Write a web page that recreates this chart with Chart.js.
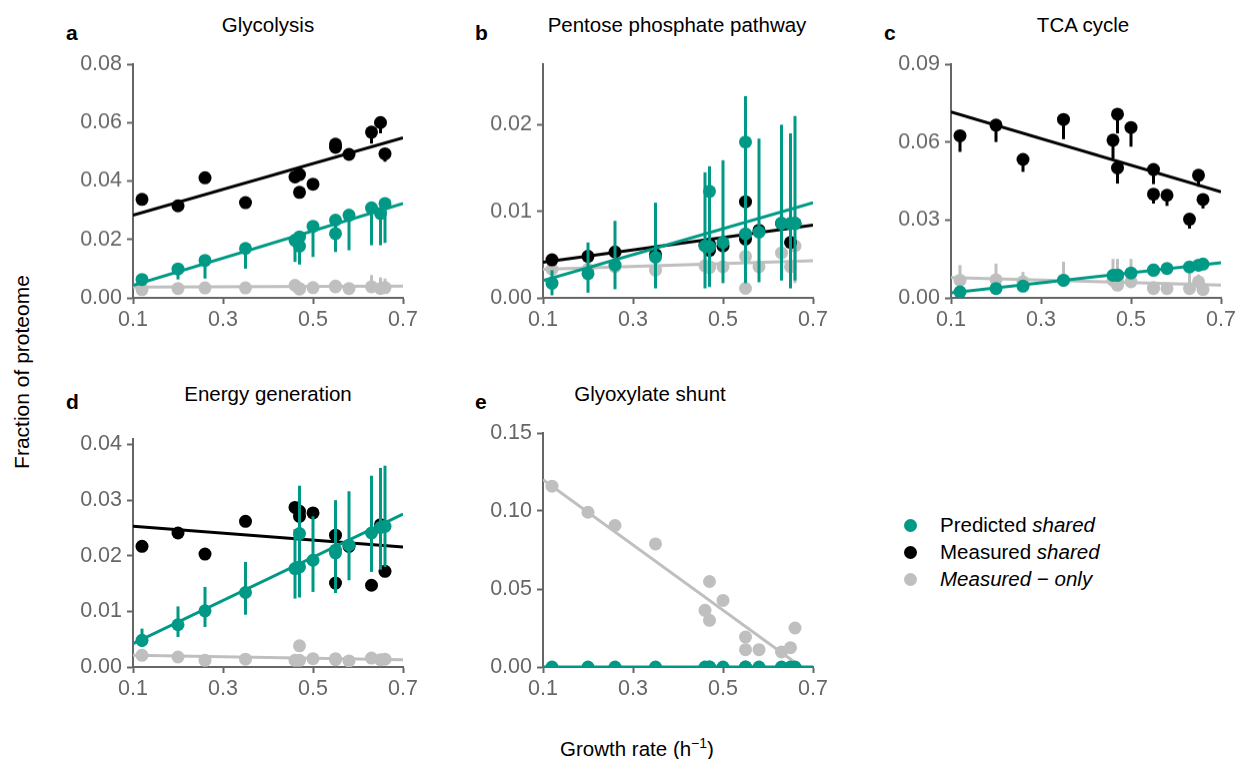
<!DOCTYPE html>
<html>
<head>
<meta charset="utf-8">
<script src="https://cdn.jsdelivr.net/npm/chart.js@4.4.1/dist/chart.umd.min.js"></script>
<style>
  body { margin: 0; background: #fff; font-family: 'Liberation Sans', Arial, sans-serif; }
  #page { position: relative; width: 1236px; height: 759px; overflow: hidden; }
  canvas { position: absolute; }
  .txt { position: absolute; white-space: nowrap; color: #000; font-size: 20.5px; }
  .title { transform: translateX(-50%); }
  .letter { font-weight: bold; font-size: 21px; }
  .dot { position: absolute; width: 13px; height: 13px; border-radius: 50%; }
</style>
</head>
<body>
<div id="page">
  <div class="txt letter" style="left:66px;top:21px">a</div>
  <div class="txt letter" style="left:475px;top:21px">b</div>
  <div class="txt letter" style="left:884px;top:21px">c</div>
  <div class="txt letter" style="left:66px;top:390px">d</div>
  <div class="txt letter" style="left:475px;top:390px">e</div>

  <div class="txt title" style="left:268px;top:13px">Glycolysis</div>
  <div class="txt title" style="left:677px;top:13px">Pentose phosphate pathway</div>
  <div class="txt title" style="left:1083px;top:13px">TCA cycle</div>
  <div class="txt title" style="left:268px;top:382px">Energy generation</div>
  <div class="txt title" style="left:650px;top:382px">Glyoxylate shunt</div>

  <div class="txt" style="left:22px;top:372px;transform:translate(-50%,-50%) rotate(-90deg);font-size:21px">Fraction of proteome</div>
  <div class="txt" style="left:637px;top:735px;transform:translateX(-50%)">Growth rate (h<sup style="font-size:14px">&minus;1</sup>)</div>

  <div class="dot" style="left:904px;top:519px;background:#009985"></div>
  <div class="dot" style="left:904px;top:546px;background:#000"></div>
  <div class="dot" style="left:904px;top:573px;background:#bfbfbf"></div>
  <div class="txt" style="left:940px;top:513px">Predicted <i>shared</i></div>
  <div class="txt" style="left:940px;top:540px">Measured <i>shared</i></div>
  <div class="txt" style="left:940px;top:567px"><i>Measured &minus; only</i></div>

  <canvas id="cA"></canvas>
  <canvas id="cB"></canvas>
  <canvas id="cC"></canvas>
  <canvas id="cD"></canvas>
  <canvas id="cE"></canvas>
</div>

<script>
// growth rates (h^-1), shared by every panel
const growthRate = [0.12, 0.20, 0.26, 0.35, 0.46, 0.47, 0.47, 0.50, 0.55, 0.55, 0.58, 0.63, 0.65, 0.66];
const xTicks = [0.1, 0.3, 0.5, 0.7];
const fitX = [0.1, 0.7];

// --- a: Glycolysis ---
const glyMeas = [0.0337, 0.0315, 0.0411, 0.0326, 0.0414, 0.0422, 0.0361, 0.0389, 0.0526, 0.0515, 0.0491, 0.0567, 0.0600, 0.0493];
const glyMeasLo = [0.0317, null, null, null, null, null, null, null, null, null, null, 0.0528, 0.0563, 0.0466];
const glyPred = [0.0063, 0.0099, 0.0128, 0.0169, 0.0197, 0.0209, 0.0177, 0.0245, 0.0266, 0.0220, 0.0283, 0.0308, 0.0289, 0.0323];
const glyPredLo = [0.0050, 0.0063, 0.0066, 0.0100, 0.0123, 0.0118, 0.0114, 0.0140, 0.0180, 0.0157, 0.0163, 0.0180, 0.0180, 0.0188];
const glyOnly = [0.0028, 0.0032, 0.0034, 0.0034, 0.0043, 0.0032, 0.0030, 0.0035, 0.0038, 0.0040, 0.0032, 0.0038, 0.0032, 0.0035];
const glyOnlyHi = [null, null, null, null, null, null, null, null, null, null, null, 0.0078, 0.0070, 0.0066];
const glyFitMeas = [0.0283, 0.0548];
const glyFitPred = [0.0043, 0.0323];
const glyFitOnly = [0.0037, 0.0040];
const glyTicks = [0, 0.02, 0.04, 0.06, 0.08];

// --- b: Pentose phosphate pathway ---
const ppMeas = [0.0044, 0.0048, 0.0053, 0.0050, 0.0061, 0.0055, 0.0062, 0.0060, 0.0111, 0.0068, 0.0078, 0.0086, 0.0064, 0.0086];
const ppPred = [0.0017, 0.0028, 0.0038, 0.0047, 0.0060, 0.0123, 0.0059, 0.0064, 0.0180, 0.0074, 0.0076, 0.0086, 0.0086, 0.0086];
const ppPredLo = [0.0003, 0.0006, 0.0010, 0.0011, 0.0011, 0.0013, null, 0.0017, 0.0017, null, 0.0018, 0.0020, 0.0011, 0.0020];
const ppPredHi = [0.0032, 0.0064, 0.0089, 0.0110, 0.0145, 0.0152, null, 0.0159, 0.0233, null, 0.0184, 0.0200, 0.0190, 0.0210];
const ppOnly = [0.0033, 0.0033, 0.0036, 0.0032, 0.0037, 0.0036, 0.0035, 0.0036, 0.0048, 0.0011, 0.0036, 0.0052, 0.0036, 0.0060];
const ppOnlyLo = [null, null, null, null, null, 0.0012, null, null, null, null, null, null, null, 0.0017];
const ppFitMeas = [0.0041, 0.0084];
const ppFitPred = [0.0020, 0.0110];
const ppFitOnly = [0.0033, 0.0043];
const ppTicks = [0, 0.01, 0.02];

// --- c: TCA cycle ---
const tcaMeas = [0.0624, 0.0665, 0.0533, 0.0687, 0.0607, 0.0707, 0.0501, 0.0656, 0.0494, 0.0399, 0.0395, 0.0303, 0.0472, 0.0379];
const tcaMeasLo = [0.0562, 0.0600, 0.0485, 0.0611, 0.0537, 0.0633, 0.0440, 0.0582, 0.0438, 0.0363, 0.0354, 0.0267, 0.0428, 0.0344];
const tcaPred = [0.0023, 0.0036, 0.0045, 0.0068, 0.0087, 0.0088, 0.0087, 0.0096, 0.0107, 0.0107, 0.0113, 0.0119, 0.0126, 0.0130];
const tcaPredLo = [null, null, null, null, 0.0075, 0.0075, null, 0.0082, 0.0093, null, 0.0098, 0.0102, 0.0108, 0.0112];
const tcaPredHi = [null, null, null, null, 0.0099, 0.0100, null, 0.0110, 0.0121, null, 0.0128, 0.0136, 0.0144, 0.0148];
const tcaOnly = [0.0068, 0.0070, 0.0062, 0.0068, 0.0068, 0.0049, 0.0066, 0.0062, 0.0036, 0.0040, 0.0036, 0.0036, 0.0062, 0.0032];
const tcaOnlyHi = [0.0126, 0.0132, 0.0100, 0.0139, 0.0150, 0.0150, null, 0.0150, null, null, null, 0.0094, 0.0090, null];
const tcaFitMeas = [0.0716, 0.0408];
const tcaFitPred = [0.0019, 0.0135];
const tcaFitOnly = [0.0078, 0.0049];
const tcaTicks = [0, 0.03, 0.06, 0.09];

// --- d: Energy generation ---
const enMeas = [0.0217, 0.0241, 0.0203, 0.0262, 0.0287, 0.0280, 0.0271, 0.0277, 0.0237, 0.0151, 0.0217, 0.0147, 0.0256, 0.0172];
const enPred = [0.0048, 0.0076, 0.0101, 0.0134, 0.0177, 0.0240, 0.0180, 0.0192, 0.0210, 0.0205, 0.0219, 0.0241, 0.0251, 0.0253];
const enPredLo = [0.0036, 0.0054, 0.0072, 0.0094, 0.0123, 0.0125, 0.0127, 0.0135, 0.0133, null, 0.0156, 0.0171, 0.0175, 0.0180];
const enPredHi = [0.0069, 0.0109, 0.0144, 0.0189, 0.0248, 0.0326, 0.0250, 0.0271, 0.0300, null, 0.0316, 0.0344, 0.0358, 0.0362];
const enOnly = [0.0021, 0.0018, 0.0012, 0.0014, 0.0012, 0.0038, 0.0012, 0.0015, 0.0015, 0.0013, 0.0011, 0.0016, 0.0013, 0.0014];
const enFitMeas = [0.0253, 0.0216];
const enFitPred = [0.0042, 0.0275];
const enFitOnly = [0.0021, 0.0013];
const enTicks = [0, 0.01, 0.02, 0.03, 0.04];

// --- e: Glyoxylate shunt ---
const glxPred = [0, 0, 0, 0, 0, 0, 0, 0, 0, 0, 0, 0, 0, 0];
const glxOnly = [0.1159, 0.0992, 0.0907, 0.0789, 0.0363, 0.0548, 0.0299, 0.0427, 0.0192, 0.0111, 0.0111, 0.0096, 0.0124, 0.0250];
const glxFitOnlyX = [0.1, 0.674];
const glxFitOnly = [0.1201, 0];
const glxFitPred = [0, 0];
const glxTicks = [0, 0.05, 0.10, 0.15];

const GREEN = '#009985';
const BLACK = '#000000';
const GREY = '#bfbfbf';
const AXIS = '#666666';
const FONT = "'Liberation Sans', Arial, sans-serif";

// vertical error bars, drawn just before their own points
const errorBars = {
  id: 'errorBars',
  beforeDatasetDraw(chart, args) {
    const ds = chart.data.datasets[args.index];
    if (!ds.lo && !ds.hi) return;
    const ctx = chart.ctx;
    const xs = chart.scales.x, ys = chart.scales.y;
    ctx.save();
    ctx.strokeStyle = ds.backgroundColor;
    ctx.lineWidth = 3;
    ds.data.forEach((p, i) => {
      const lo = ds.lo && ds.lo[i] != null ? ds.lo[i] : p.y;
      const hi = ds.hi && ds.hi[i] != null ? ds.hi[i] : p.y;
      if (lo === hi) return;
      const px = xs.getPixelForValue(p.x);
      ctx.beginPath();
      ctx.moveTo(px, ys.getPixelForValue(lo));
      ctx.lineTo(px, ys.getPixelForValue(hi));
      ctx.stroke();
    });
    ctx.restore();
  }
};

function pts(xs, ys) {
  return ys.map((y, i) => ({ x: xs[i], y: y }));
}

function scatter(ys, color, order, lo, hi, clip) {
  const ds = {
    type: 'scatter',
    data: pts(growthRate, ys),
    backgroundColor: color,
    borderWidth: 0,
    pointRadius: 6.5,
    pointHoverRadius: 6.5,
    order: order,
    lo: lo,
    hi: hi
  };
  if (clip) ds.clip = clip;
  return ds;
}

function fitLine(xs, ys, color, order, clip) {
  const ds = {
    type: 'line',
    data: pts(xs, ys),
    borderColor: color,
    borderWidth: 3,
    pointRadius: 0,
    fill: false,
    order: order
  };
  if (clip) ds.clip = clip;
  return ds;
}

// box: pixel spots of x=0.1, x=0.7, y=0 and y=max on the page
function makePanel(id, box, yMax, yTicks, datasets) {
  const padL = 70, padR = 30, padT = 20, padB = 40;
  const canvas = document.getElementById(id);
  const w = box.x07 - box.x01 + padL + padR;
  const h = box.y0 - box.yTop + padT + padB;
  canvas.style.left = (box.x01 - padL) + 'px';
  canvas.style.top = (box.yTop - padT) + 'px';
  canvas.style.width = w + 'px';
  canvas.style.height = h + 'px';
  canvas.width = w;
  canvas.height = h;

  const tickFont = { family: FONT, size: 21.5 };
  new Chart(canvas, {
    type: 'scatter',
    data: { datasets: datasets },
    options: {
      responsive: false,
      animation: false,
      events: [],
      layout: { padding: { left: 0, right: padR, top: padT, bottom: 0 } },
      plugins: { legend: { display: false }, tooltip: { enabled: false } },
      scales: {
        x: {
          type: 'linear',
          min: 0.1,
          max: 0.7,
          afterBuildTicks: (s) => { s.ticks = xTicks.map(v => ({ value: v })); },
          afterFit: (s) => { s.height = padB; },
          grid: { drawOnChartArea: false, drawTicks: true, tickLength: 6, tickWidth: 2, tickColor: AXIS },
          border: { display: true, color: AXIS, width: 2 },
          ticks: { color: AXIS, font: tickFont, padding: 3, maxRotation: 0, callback: (v) => v.toFixed(1) }
        },
        y: {
          type: 'linear',
          min: 0,
          max: yMax,
          afterBuildTicks: (s) => { s.ticks = yTicks.map(v => ({ value: v })); },
          afterFit: (s) => { s.width = padL; },
          grid: { drawOnChartArea: false, drawTicks: true, tickLength: 6, tickWidth: 2, tickColor: AXIS },
          border: { display: true, color: AXIS, width: 2 },
          ticks: { color: AXIS, font: tickFont, padding: 5, callback: (v) => v.toFixed(2) }
        }
      }
    },
    plugins: [errorBars]
  });
}

// lower order is drawn on top: predicted (green) over measured (black) over measured-only (grey)
makePanel('cA', { x01: 133, x07: 403, y0: 297.5, yTop: 64 }, 0.08, glyTicks, [
  scatter(glyPred, GREEN, 1, glyPredLo, null),
  fitLine(fitX, glyFitPred, GREEN, 2),
  scatter(glyMeas, BLACK, 3, glyMeasLo, null),
  fitLine(fitX, glyFitMeas, BLACK, 4),
  scatter(glyOnly, GREY, 5, null, glyOnlyHi),
  fitLine(fitX, glyFitOnly, GREY, 6)
]);

makePanel('cB', { x01: 543, x07: 813, y0: 297.5, yTop: 64 }, 0.027, ppTicks, [
  scatter(ppPred, GREEN, 1, ppPredLo, ppPredHi),
  fitLine(fitX, ppFitPred, GREEN, 2),
  scatter(ppMeas, BLACK, 3, null, null),
  fitLine(fitX, ppFitMeas, BLACK, 4),
  scatter(ppOnly, GREY, 5, ppOnlyLo, null),
  fitLine(fitX, ppFitOnly, GREY, 6)
]);

makePanel('cC', { x01: 951, x07: 1221, y0: 297.5, yTop: 64 }, 0.09, tcaTicks, [
  scatter(tcaPred, GREEN, 1, tcaPredLo, tcaPredHi),
  fitLine(fitX, tcaFitPred, GREEN, 2),
  scatter(tcaMeas, BLACK, 3, tcaMeasLo, null),
  fitLine(fitX, tcaFitMeas, BLACK, 4),
  scatter(tcaOnly, GREY, 5, null, tcaOnlyHi),
  fitLine(fitX, tcaFitOnly, GREY, 6)
]);

makePanel('cD', { x01: 133, x07: 403, y0: 666.5, yTop: 438.5 }, 0.041, enTicks, [
  scatter(enPred, GREEN, 1, enPredLo, enPredHi),
  fitLine(fitX, enFitPred, GREEN, 2),
  scatter(enMeas, BLACK, 3, null, null),
  fitLine(fitX, enFitMeas, BLACK, 4),
  scatter(enOnly, GREY, 5, null, null),
  fitLine(fitX, enFitOnly, GREY, 6)
]);

const bottomClip = { left: false, top: false, right: false, bottom: 0 };
makePanel('cE', { x01: 543, x07: 813, y0: 666.5, yTop: 432.5 }, 0.15, glxTicks, [
  scatter(glxPred, GREEN, 1, null, null, bottomClip),
  fitLine(fitX, glxFitPred, GREEN, 2, bottomClip),
  scatter(glxOnly, GREY, 3, null, null),
  fitLine(glxFitOnlyX, glxFitOnly, GREY, 4)
]);
</script>
</body>
</html>
